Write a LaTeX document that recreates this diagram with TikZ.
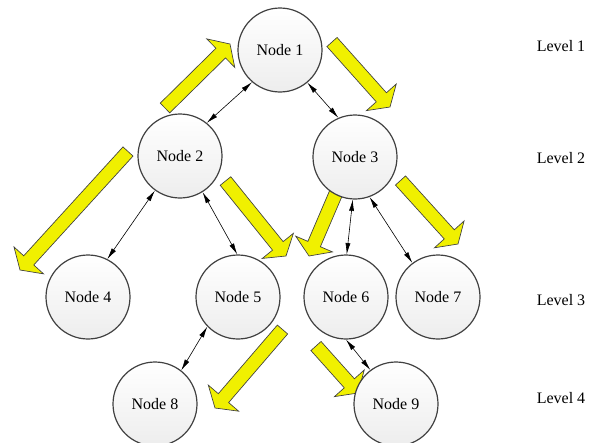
\documentclass[tikz,border=0pt]{standalone}
\usepackage{fontspec}
\setmainfont{Liberation Serif}
\usetikzlibrary{calc,arrows.meta}
\definecolor{ylw}{RGB}{240,240,0}
\definecolor{edgegray}{RGB}{64,64,64}
\tikzset{
 treenode/.style={circle, draw=edgegray, line width=0.9pt, minimum size=63pt, inner sep=0pt,
   top color=white, bottom color=gray!14, font=\fontsize{12}{14}\selectfont},
 conn/.style={line width=0.45pt, {Latex[length=8.5pt,width=3.8pt]}-{Latex[length=8.5pt,width=3.8pt]}},
 yarrow/.style={draw=edgegray, line width=0.5pt, fill=ylw, line join=miter},
 lvl/.style={font=\fontsize{12}{14}\selectfont}
}
\newcommand{\blockarr}[2]{%
 \coordinate (ba-b) at ($(#2)!9.75pt!(#1)$);
 \draw[yarrow] ($(#1)!5.1pt!90:(#2)$) -- ($(ba-b)!5.1pt!90:(#2)$) -- ($(ba-b)!15pt!90:(#2)$) -- (#2)
   -- ($(ba-b)!15pt!-90:(#2)$) -- ($(ba-b)!5.1pt!-90:(#2)$) -- ($(#1)!5.1pt!-90:(#2)$) -- cycle;}
\begin{document}
\begin{tikzpicture}[x=0.75pt,y=0.75pt]
\useasboundingbox (0,0) rectangle (597,-443);
% yellow block arrows
\coordinate (aT) at (165,-108);   \coordinate (aP) at (230,-44);
\coordinate (bT) at (332,-42);    \coordinate (bP) at (390,-107);
\coordinate (cT) at (128,-151.5); \coordinate (cP) at (20,-270);
\coordinate (dT) at (225.5,-181); \coordinate (dP) at (286,-256);
\coordinate (eT) at (336,-193);   \coordinate (eP) at (309,-256);
\coordinate (fT) at (400.5,-180.5); \coordinate (fP) at (458,-244);
\coordinate (gT) at (282.5,-329.5); \coordinate (gP) at (215,-408);
\coordinate (hT) at (316,-346);   \coordinate (hP) at (358,-393);
\blockarr{aT}{aP}
\blockarr{bT}{bP}
\blockarr{cT}{cP}
\blockarr{dT}{dP}
\blockarr{eT}{eP}
\blockarr{fT}{fP}
\blockarr{gT}{gP}
\blockarr{hT}{hP}
% nodes
\node[treenode] (n1) at (280,-50) {Node 1};
\node[treenode] (n2) at (180,-156) {Node 2};
\node[treenode] (n3) at (355,-157) {Node 3};
\node[treenode] (n4) at (88,-297) {Node 4};
\node[treenode] (n5) at (238,-297) {Node 5};
\node[treenode] (n6) at (346,-297) {Node 6};
\node[treenode] (n7) at (438,-297) {Node 7};
\node[treenode] (n8) at (155,-404) {Node 8};
\node[treenode] (n9) at (396,-404) {Node 9};
% connectors
\draw[conn] (n1.229) -- (n2.51);
\draw[conn] (n1.310) -- (n3.113);
\draw[conn] (n2.234) -- (n4.63);
\draw[conn] (n2.302) -- (n5.91);
\draw[conn] (n3.267) -- (n6.89);
\draw[conn] (n3.290) -- (n7.127);
\draw[conn] (n5.224) -- (n8.52);
\draw[conn] (n6.270) -- (n9.127);
% level labels
\node[lvl] (l1) at (561,-46) {Level 1};
\node[lvl] (l2) at (561,-158) {Level 2};
\node[lvl] (l3) at (561,-300) {Level 3};
\node[lvl] (l4) at (561,-398) {Level 4};
\end{tikzpicture}
\end{document}
